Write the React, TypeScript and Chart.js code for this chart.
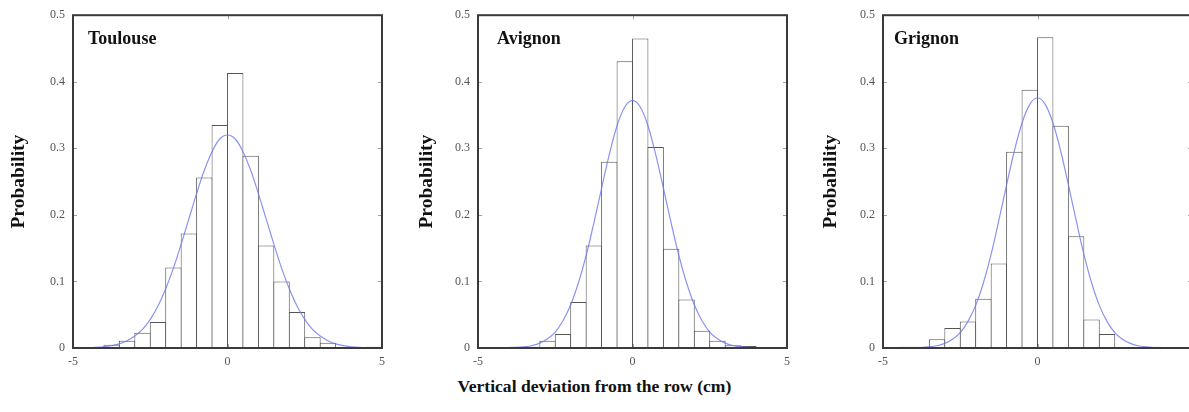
import React, { useEffect, useRef } from "react";
import { Chart, registerables } from "chart.js";

Chart.register(...registerables);

// ---------- data ----------
const binCenters = [
  -4.75, -4.25, -3.75, -3.25, -2.75, -2.25, -1.75, -1.25, -0.75, -0.25,
  0.25, 0.75, 1.25, 1.75, 2.25, 2.75, 3.25, 3.75, 4.25, 4.75,
];

const toulouseBars = [
  0.001, 0, 0.005, 0.011, 0.023, 0.039, 0.121, 0.172, 0.256, 0.335,
  0.413, 0.289, 0.154, 0.1, 0.054, 0.016, 0.008, 0.001, 0, 0.002,
];
const avignonBars = [
  0, 0, 0.002, 0.002, 0.011, 0.021, 0.069, 0.154, 0.28, 0.431,
  0.465, 0.302, 0.149, 0.073, 0.026, 0.011, 0.004, 0.003, 0, 0,
];
const grignonBars = [
  0, 0.002, 0.002, 0.013, 0.03, 0.04, 0.074, 0.127, 0.295, 0.388,
  0.467, 0.334, 0.168, 0.043, 0.021, 0, 0, 0.002, 0, 0,
];

const curveX = [
  -5, -4.75, -4.5, -4.25, -4, -3.75, -3.5, -3.25, -3, -2.75, -2.5, -2.25, -2,
  -1.75, -1.5, -1.25, -1, -0.75, -0.5, -0.25, 0, 0.25, 0.5, 0.75, 1, 1.25,
  1.5, 1.75, 2, 2.25, 2.5, 2.75, 3, 3.25, 3.5, 3.75, 4, 4.25, 4.5, 4.75, 5,
];

const toulouseCurve = [
  0.0001, 0.0002, 0.0005, 0.001, 0.0019, 0.0036, 0.0063, 0.011, 0.018, 0.028,
  0.043, 0.063, 0.089, 0.12, 0.156, 0.194, 0.232, 0.267, 0.295, 0.314, 0.32,
  0.314, 0.295, 0.267, 0.232, 0.194, 0.156, 0.12, 0.089, 0.063, 0.043, 0.028,
  0.018, 0.011, 0.0063, 0.0036, 0.0019, 0.001, 0.0005, 0.0002, 0.0001,
];
const avignonCurve = [
  0, 0, 0.0001, 0.0002, 0.0004, 0.0008, 0.0018, 0.0037, 0.0073, 0.014, 0.024,
  0.041, 0.065, 0.098, 0.139, 0.188, 0.24, 0.291, 0.334, 0.362, 0.372, 0.362,
  0.334, 0.291, 0.24, 0.188, 0.139, 0.098, 0.065, 0.041, 0.024, 0.014, 0.0073,
  0.0037, 0.0018, 0.0008, 0.0004, 0.0002, 0.0001, 0, 0,
];
const grignonCurve = [
  0, 0, 0, 0.0001, 0.0003, 0.0007, 0.0016, 0.0034, 0.0069, 0.013, 0.023, 0.04,
  0.064, 0.098, 0.141, 0.192, 0.245, 0.296, 0.338, 0.366, 0.376, 0.366, 0.338,
  0.296, 0.245, 0.192, 0.141, 0.098, 0.064, 0.04, 0.023, 0.013, 0.0069, 0.0034,
  0.0016, 0.0007, 0.0003, 0.0001, 0, 0, 0,
];

const xTicks = [-5, 0, 5];
const yTicks = [0, 0.1, 0.2, 0.3, 0.4, 0.5];

const panelNames = ["Toulouse", "Avignon", "Grignon"];
const panelBars = [toulouseBars, avignonBars, grignonBars];
const panelCurves = [toulouseCurve, avignonCurve, grignonCurve];

// ---------- layout / style ----------
const CANVAS_W = 395;
const CANVAS_H = 372;
const panelLeft = [0, 405, 810];
const panelTitleDx = [15, 19, 11];
const yTitlePad = [7, 10, 9];
const SERIF = '"Liberation Serif", "Times New Roman", serif';

const frameAndTicks = {
  id: "frameAndTicks",
  afterDraw(chart: any) {
    const { ctx, chartArea: a, scales } = chart;
    ctx.save();
    // inner ticks
    ctx.strokeStyle = "#a0a0a0";
    ctx.lineWidth = 1;
    const L = 4;
    ctx.beginPath();
    for (const v of xTicks) {
      const px = Math.round(scales.x.getPixelForValue(v)) + 0.5;
      ctx.moveTo(px, a.top);
      ctx.lineTo(px, a.top + L);
      ctx.moveTo(px, a.bottom);
      ctx.lineTo(px, a.bottom - L);
    }
    for (const v of yTicks) {
      const py = Math.round(scales.y.getPixelForValue(v)) + 0.5;
      ctx.moveTo(a.left, py);
      ctx.lineTo(a.left + L, py);
      ctx.moveTo(a.right, py);
      ctx.lineTo(a.right - L, py);
    }
    ctx.stroke();
    // frame
    ctx.strokeStyle = "#3a3a3a";
    ctx.lineWidth = 2;
    ctx.strokeRect(a.left, a.top, a.right - a.left, a.bottom - a.top);
    // panel title
    const opts = chart.options.plugins.frameAndTicks || {};
    ctx.fillStyle = "#111";
    ctx.font = `bold 18px ${SERIF}`;
    ctx.textBaseline = "alphabetic";
    ctx.textAlign = "left";
    ctx.fillText(opts.name || "", a.left + (opts.dx || 15), a.top + 29);
    ctx.restore();
  },
};

function Panel({ idx }: { idx: number }) {
  const ref = useRef<HTMLCanvasElement>(null);
  useEffect(() => {
    if (!ref.current) return;
    const bars = panelBars[idx].map((y, i) => ({ x: binCenters[i], y }));
    const curve = panelCurves[idx].map((y, i) => ({ x: curveX[i], y }));
    const chart = new Chart(ref.current, {
      type: "bar",
      data: {
        datasets: [
          {
            type: "line",
            data: curve,
            borderColor: "rgba(110,120,235,0.8)",
            borderWidth: 1.2,
            pointRadius: 0,
            tension: 0.35,
            fill: false,
            order: 0,
          } as any,
          {
            type: "bar",
            data: bars,
            backgroundColor: "#ffffff",
            borderColor: "#555555",
            borderWidth: 1,
            barPercentage: 1.06,
            categoryPercentage: 1,
            order: 1,
          } as any,
        ],
      },
      options: {
        responsive: false,
        animation: false,
        devicePixelRatio: 1,
        layout: { padding: { top: 12, right: 13, left: 0, bottom: 0 } },
        plugins: {
          legend: { display: false },
          tooltip: { enabled: false },
          frameAndTicks: { name: panelNames[idx], dx: panelTitleDx[idx] },
        } as any,
        scales: {
          x: {
            type: "linear",
            min: -5,
            max: 5,
            offset: false,
            grid: { display: false, drawTicks: false },
            border: { display: false },
            afterBuildTicks: (s: any) => {
              s.ticks = xTicks.map((v) => ({ value: v }));
            },
            afterFit: (s: any) => {
              s.height = 24;
            },
            ticks: {
              padding: 7,
              color: "#555",
              font: { family: SERIF, size: 12 },
              maxRotation: 0,
            },
          },
          y: {
            type: "linear",
            min: 0,
            max: 0.5,
            grid: { display: false, drawTicks: false },
            border: { display: false },
            afterBuildTicks: (s: any) => {
              s.ticks = yTicks.map((v) => ({ value: v }));
            },
            afterFit: (s: any) => {
              s.width = 73;
            },
            ticks: {
              padding: 8,
              color: "#555",
              font: { family: SERIF, size: 12 },
            },
            title: {
              display: true,
              text: "Probability",
              color: "#111",
              font: { family: SERIF, size: 19.5, weight: "bold" },
              padding: { top: yTitlePad[idx], bottom: 0 },
            },
          },
        },
      },
      plugins: [frameAndTicks],
    });
    return () => chart.destroy();
  }, [idx]);
  return (
    <canvas
      ref={ref}
      width={CANVAS_W}
      height={CANVAS_H}
      style={{
        position: "absolute",
        left: panelLeft[idx],
        top: 0,
        width: CANVAS_W,
        height: CANVAS_H,
      }}
    />
  );
}

export default function App() {
  return (
    <div
      style={{
        position: "absolute",
        left: 0,
        top: 0,
        width: 1189,
        height: 412,
        overflow: "hidden",
        background: "#fff",
      }}
    >
      <Panel idx={0} />
      <Panel idx={1} />
      <Panel idx={2} />
      <div
        style={{
          position: "absolute",
          left: 0,
          top: 376,
          width: 1189,
          textAlign: "center",
          fontFamily: SERIF,
          fontWeight: "bold",
          fontSize: 17.6,
          lineHeight: "20px",
          color: "#111",
        }}
      >
        Vertical deviation from the row (cm)
      </div>
    </div>
  );
}
